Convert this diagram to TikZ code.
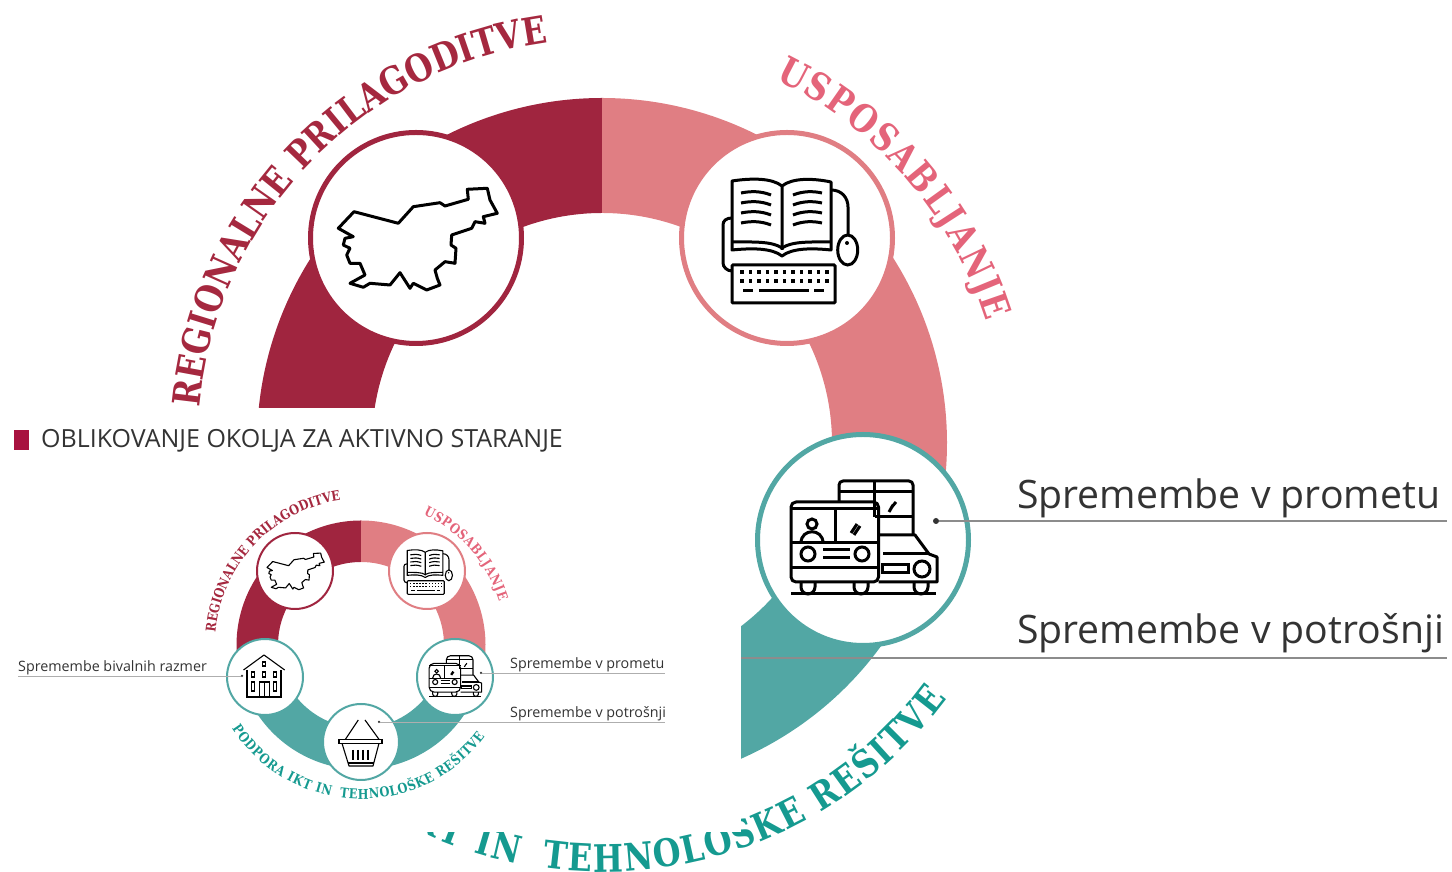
\documentclass[tikz,border=0pt]{standalone}
\usepackage{fontspec}
\setmainfont{Open Sans}
\newfontfamily\slabfont[FakeStretch=0.84]{DejaVu Serif}
\usetikzlibrary{decorations.text}

\definecolor{regred}{HTML}{A0253F}
\definecolor{regtext}{HTML}{A5283F}
\definecolor{usppink}{HTML}{E07E83}
\definecolor{usptext}{HTML}{E4647A}
\definecolor{ikteal}{HTML}{52A7A4}
\definecolor{iktext}{HTML}{159A90}
\definecolor{titlered}{HTML}{A8123F}
\definecolor{inkgray}{HTML}{333333}
\definecolor{leadgray}{HTML}{8C8C8C}

\newcommand{\bigslab}{\slabfont\bfseries\fontsize{38}{38}\selectfont}
\newcommand{\smallslab}{\slabfont\bfseries\fontsize{13.6}{14}\selectfont}

% colour, centre, start, end, outer, inner
\newcommand{\ringpart}[6]{
  \fill[#1] ([shift=(#3:#5)]#2) arc[start angle=#3,end angle=#4,radius=#5]
    -- ([shift=(#4:#6)]#2) arc[start angle=#4,end angle=#3,radius=#6] -- cycle;
}
% colour, slab font, centre, start, end, radius, text
\newcommand{\ringtext}[7]{
  \path[decorate,decoration={text along path,text align={fit to path},text={|#2\color{#1}|#7}}]
    ([shift=(#4:#6)]#3) arc[start angle=#4,end angle=#5,radius=#6];
}

\tikzset{
  mapicon/.pic={
    \draw[line join=round] (-62,26.3) -- (-17.7,14.7) -- (-2.7,31.3) -- (24,35.3) -- (29,32) -- (52.3,38.7)
      -- (51.3,48.7) -- (71.3,49.7) -- (74,38) -- (81.3,24.7) -- (67.3,21.3) -- (69,14.7) -- (59,16.3)
      -- (55.7,9.7) -- (35.7,3) -- (35,-7) -- (40,-10.3) -- (39,-25.3) -- (29,-23.7) -- (19,-32)
      -- (21.3,-40.3) -- (24,-47) -- (10.7,-52) -- (-2.7,-45.3) -- (-6,-50.3) -- (-16,-34.7) -- (-26,-47)
      -- (-46,-45.3) -- (-52.7,-49.3) -- (-66,-45.3) -- (-51,-37) -- (-56,-25.3) -- (-66,-25.3)
      -- (-69.3,-17) -- (-66,-10.3) -- (-72.7,-7) -- (-71,-0.3) -- (-62.7,1.3) -- (-77.7,9.7) -- cycle;
  },
  bookicon/.pic={
    \draw[line join=round] (-5,-12) -- (-5,52) .. controls (-15,60) and (-35,60) .. (-55,57) -- (-55,-12)
      .. controls (-35,-10) and (-15,-10) .. (-5,-18) .. controls (5,-10) and (25,-10) .. (44,-12)
      -- (44,56) .. controls (25,60) and (5,60) .. (-5,52);
    \draw (-55,-4) .. controls (-35,-4) and (-15,-3) .. (-5,-10) .. controls (5,-3) and (25,-4) .. (44,-4);
    \foreach \liney in {45,35,25,15} {
      \draw (-46,\liney) .. controls (-36,\liney+2) and (-26,\liney+2) .. (-16,\liney-2);
      \draw (6,\liney-2) .. controls (16,\liney+2) and (26,\liney+2) .. (35,\liney);
    }
    \draw[rounded corners=1] (-55,-27) rectangle (48,-65);
    \foreach \keyx in {-45,-36.5,...,40} {
      \fill (\keyx-1.8,-32.2) rectangle (\keyx+1.8,-35.8);
      \fill (\keyx-1.8,-41.2) rectangle (\keyx+1.8,-44.8);
    }
    \draw (-44,-53) -- (-34,-53) (-28,-53) -- (22,-53) (27,-53) -- (37,-53);
    \draw (-55,20) .. controls (-61,20) and (-64,17) .. (-64,13) -- (-64,-25) .. controls (-64,-29) and (-60,-33) .. (-55,-33);
    \draw (44,48) .. controls (55,48) and (61,40) .. (61,31) -- (61,3);
    \draw (60.7,-12) ellipse [x radius=10,y radius=15];
    \fill (60,-5) circle [radius=2];
  },
  trafficicon/.pic={
    \draw[line join=round,rounded corners=4] (-24,38) -- (-24,59) -- (50,59) -- (50,5);
    \draw (-24,48) -- (50,48) (11.5,59) -- (11.5,38) (11.5,23) -- (50,23) (11.5,38) -- (11.5,23);
    \draw (26,28) -- (30,35) (28,32) -- (33,38);
    \draw[line join=round,rounded corners=5] (-72,-42) rectangle (15.5,38);
    \draw (-72,31) -- (15.5,31) (-72,-3) -- (15.5,-3) (-72,-28) -- (15.5,-28) (-28,31) -- (-28,-3);
    \draw (-51,16) circle [radius=5];
    \draw (-62,-3) .. controls (-62,12) and (-40,12) .. (-40,-3);
    \draw (-12,7) -- (-6,16) (-9,5) -- (-3,14);
    \draw (-55,-14) circle [radius=7] (-1,-14) circle [radius=7];
    \draw (-40,-10) -- (-13,-10) (-40,-18) -- (-13,-18);
    \draw (-62,-42) -- (-62,-47) arc[start angle=180,end angle=360,radius=7] -- (-48,-42);
    \draw (-9,-42) -- (-9,-47) arc[start angle=180,end angle=360,radius=7] -- (5,-42);
    \draw[line join=round] (15.5,5) -- (52,5) -- (66,-14) -- (74,-17) -- (74,-42) -- (15.5,-42);
    \draw (20,-14) -- (66,-14);
    \draw (19,-25) rectangle (45,-33);
    \draw (59,-29) circle [radius=8];
    \draw (51,-42) -- (51,-47) arc[start angle=180,end angle=360,radius=7] -- (65,-42);
    \draw (-72,-54) -- (73,-54);
  },
  basketicon/.pic={
    \draw[line join=round] (-15.6,2.7) -- (-2.7,22) (4,22) -- (18,2.7);
    \draw (-22,-1.3) rectangle (21,2.7);
    \draw[line join=round] (-19,-1.3) -- (-12,-24) -- (12,-24) -- (18,-1.3);
    \draw (-13,-21) -- (13,-21);
    \foreach \barx in {-8,-3,2,7} {
      \draw (\barx,-8) -- (\barx,-18);
    }
  },
  houseicon/.pic={
    \draw[line join=round] (-21.5,7) -- (-1,22) -- (19.7,7);
    \draw (-18,7) -- (-18,-20) -- (16,-20) -- (16,7);
    \draw (-2.5,11) rectangle (0.5,15);
    \foreach \winx in {-12,-1,10} {
      \draw (\winx-1.6,0) rectangle (\winx+1.6,5);
    }
    \draw (-13.6,-14) rectangle (-10.4,-5);
    \draw (8.4,-14) rectangle (11.6,-5);
    \draw (-5.5,-20) -- (-5.5,-5) -- (4.6,-5) -- (4.6,-20) (-0.5,-5) -- (-0.5,-20);
  }
}

\begin{document}
\begin{tikzpicture}[x=1pt,y=1pt]
  \tikzstyle{bigcircle} = [circle, fill=white, line width=5pt, minimum size=211pt, inner sep=0pt]
  \tikzstyle{smallcircle} = [circle, fill=white, line width=2pt, minimum size=76pt, inner sep=0pt]
  \tikzstyle{biglabel} = [anchor=west, inner sep=0pt, text=inkgray, font=\fontsize{39.2}{40}\selectfont]
  \tikzstyle{smalllabel} = [anchor=west, inner sep=0pt, text=inkgray, font=\fontsize{14.3}{15}\selectfont]
  \tikzstyle{dot} = [circle, fill=inkgray, inner sep=0pt]
  \tikzstyle{bigicon} = [line width=3pt]
  \tikzstyle{smallicon} = [scale=0.36, line width=1.1pt]
  \tikzstyle{bigleader} = [leadgray, line width=1.4pt]
  \tikzstyle{smallleader} = [leadgray!70, line width=0.8pt]

  \useasboundingbox (0,0) rectangle (1452,872);
  \coordinate (bigc) at (602,429);
  \coordinate (smallc) at (361,227);

  \ringpart{regred}{bigc}{90}{190}{345}{230}
  \ringpart{usppink}{bigc}{90}{-20}{345}{230}
  \ringpart{ikteal}{bigc}{-20}{-170}{345}{230}

  \ringtext{regtext}{\bigslab}{bigc}{175}{98}{404}{REGIONALNE PRILAGODITVE}
  \ringtext{usptext}{\bigslab}{bigc}{64.5}{17.5}{403}{USPOSABLJANJE}
  \ringtext{iktext}{\bigslab}{bigc}{213}{258.7}{429}{PODPORA IKT IN}
  \ringtext{iktext}{\bigslab}{bigc}{262}{323.5}{429}{TEHNOLOŠKE REŠITVE}

  \node (mapbig) [bigcircle, draw=regred] at (416,634) {};
  \node (bookbig) [bigcircle, draw=usppink] at (787,634) {};
  \node (trafficbig) [bigcircle, draw=ikteal] at (863,332) {};
  \pic[bigicon] at (mapbig) {mapicon};
  \pic[bigicon] at (bookbig) {bookicon};
  \pic[bigicon] at (trafficbig) {trafficicon};

  \fill[white] (0,40) rectangle (741,464);

  \node (titlemark) [fill=titlered, minimum width=15pt, minimum height=20pt, inner sep=0pt] at (21.5,432) {};
  \node (title) [anchor=west, inner sep=0pt, text=inkgray, font=\fontsize{25}{25}\selectfont] at (41,431) {OBLIKOVANJE OKOLJA ZA AKTIVNO STARANJE};

  \ringpart{regred}{smallc}{90}{190}{124.5}{83}
  \ringpart{usppink}{smallc}{90}{-20}{124.5}{83}
  \ringpart{ikteal}{smallc}{-20}{-170}{124.5}{83}

  \ringtext{regtext}{\smallslab}{smallc}{175}{98}{146}{REGIONALNE PRILAGODITVE}
  \ringtext{usptext}{\smallslab}{smallc}{64.5}{17.5}{145}{USPOSABLJANJE}
  \ringtext{iktext}{\smallslab}{smallc}{213}{258.7}{154}{PODPORA IKT IN}
  \ringtext{iktext}{\smallslab}{smallc}{262}{323.5}{154}{TEHNOLOŠKE REŠITVE}

  \node (mapsmall) [smallcircle, draw=regred] at (295,301) {};
  \node (booksmall) [smallcircle, draw=usppink] at (427,301) {};
  \node (trafficsmall) [smallcircle, draw=ikteal] at (455,195) {};
  \node (basketsmall) [smallcircle, draw=ikteal] at (361,130) {};
  \node (housesmall) [smallcircle, draw=ikteal] at (265,195) {};
  \pic[smallicon] at (mapsmall) {mapicon};
  \pic[smallicon] at (booksmall) {bookicon};
  \pic[smallicon] at (trafficsmall) {trafficicon};
  \pic[line width=1.1pt] at (basketsmall) {basketicon};
  \pic[line width=1.1pt] at (housesmall) {houseicon};

  \node (prometbig) [biglabel] at (1017,374) {Spremembe v prometu};
  \node (potrosbig) [biglabel] at (1017,239) {Spremembe v potrošnji};
  \node (prometdot) [dot, minimum size=6pt] at (936,351) {};
  \coordinate (prometend) at (1447,351);
  \coordinate (potrosstart) at (741,214);
  \coordinate (potrosend) at (1447,214);
  \draw [bigleader] (prometdot) -- (prometend);
  \draw [bigleader] (potrosstart) -- (potrosend);

  \node (prometsmall) [smalllabel] at (510,207) {Spremembe v prometu};
  \node (potrossmall) [smalllabel] at (510,158) {Spremembe v potrošnji};
  \node (bivalsmall) [smalllabel] at (18,204) {Spremembe bivalnih razmer};
  \node (smalldot1) [dot, minimum size=2.5pt] at (481,199) {};
  \node (smalldot2) [dot, minimum size=2.5pt] at (379,150) {};
  \node (smalldot3) [dot, minimum size=2.5pt] at (242,196) {};
  \coordinate (smallend1) at (665,199);
  \coordinate (smallend2) at (665,150);
  \coordinate (smallend3) at (18,196);
  \draw [smallleader] (smalldot1) -- (smallend1);
  \draw [smallleader] (smalldot2) -- (smallend2);
  \draw [smallleader] (smalldot3) -- (smallend3);
\end{tikzpicture}
\end{document}
